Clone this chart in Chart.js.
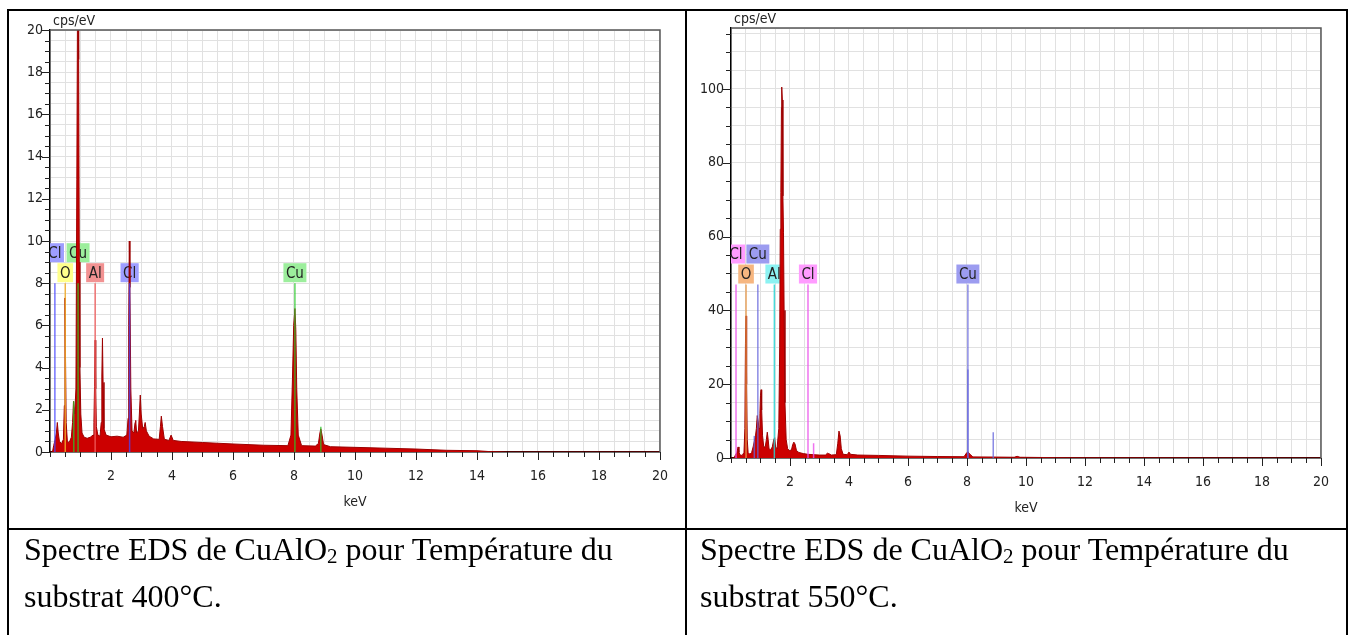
<!DOCTYPE html>
<html>
<head>
<meta charset="utf-8">
<script src="https://cdn.jsdelivr.net/npm/chart.js@4.4.1/dist/chart.umd.min.js"></script>
<style>
  body { margin: 0; background: #fff; width: 1349px; height: 635px; overflow: hidden; position: relative; }
  .cell { position: absolute; }
  .rule { position: absolute; background: #000; }
  .caption {
    position: absolute; font-family: "Liberation Serif", "Times New Roman", serif;
    font-size: 32px; line-height: 47px; color: #000; white-space: nowrap;
  }
  .caption sub { font-size: 21px; vertical-align: -3px; line-height: 0; }
</style>
</head>
<body>
<div class="cell" style="left:10px;top:11px;width:674px;height:517px"><canvas id="eds400" width="674" height="517"></canvas></div>
<div class="cell" style="left:688px;top:11px;width:657px;height:517px"><canvas id="eds550" width="657" height="517"></canvas></div>

<div class="rule" style="left:7px;top:9px;width:1341px;height:1.5px"></div>
<div class="rule" style="left:7px;top:9px;width:2px;height:626px"></div>
<div class="rule" style="left:685px;top:9px;width:2px;height:626px"></div>
<div class="rule" style="left:1346px;top:9px;width:2px;height:626px"></div>
<div class="rule" style="left:7px;top:528px;width:1341px;height:2px"></div>

<div class="caption" style="left:24px;top:526px">Spectre EDS de CuAlO<sub>2</sub> pour Température du<br>substrat 400°C.</div>
<div class="caption" style="left:700px;top:526px">Spectre EDS de CuAlO<sub>2</sub> pour Température du<br>substrat 550°C.</div>

<script>
// tick labels
const xLabels = [2, 4, 6, 8, 10, 12, 14, 16, 18, 20];
const yLabels400 = [0, 2, 4, 6, 8, 10, 12, 14, 16, 18, 20];
const yLabels550 = [0, 20, 40, 60, 80, 100];

// spectrum, substrat 400°C (keV / cps/eV)
const kev400 = [0.00, 0.08, 0.12, 0.17, 0.21, 0.24, 0.27, 0.31, 0.38, 0.44, 0.47, 0.49, 0.51, 0.53, 0.57,
  0.63, 0.70, 0.74, 0.77, 0.81, 0.85, 0.88, 0.90, 0.93, 0.94, 0.96, 0.98, 1.01, 1.05, 1.12, 1.22, 1.32,
  1.41, 1.44, 1.46, 1.48, 1.50, 1.52, 1.57, 1.64, 1.68, 1.70, 1.72, 1.74, 1.77, 1.84, 2.00, 2.20, 2.40,
  2.52, 2.56, 2.58, 2.60, 2.62, 2.65, 2.69, 2.75, 2.79, 2.81, 2.84, 2.90, 2.93, 2.96, 2.99, 3.04, 3.09,
  3.12, 3.16, 3.25, 3.40, 3.58, 3.62, 3.65, 3.69, 3.75, 3.90, 3.97, 4.04, 4.30, 5.00, 6.00, 7.00, 7.80,
  7.90, 7.95, 7.99, 8.03, 8.06, 8.09, 8.14, 8.25, 8.70, 8.80, 8.85, 8.88, 8.92, 8.97, 9.20, 10.0, 11.0,
  12.0, 13.0, 14.0, 14.4, 15.0, 20.0];
const cps400 = [0, 0, 0.3, 0.6, 0.9, 1.4, 0.9, 0.5, 0.4, 0.6, 2.2, 7.3, 4.3, 1.4, 0.5,
  0.45, 0.7, 1.4, 2.4, 1.8, 3.0, 12.9, 20.5, 20.5, 18.6, 9.0, 4.0, 1.8, 0.9, 0.7, 0.65, 0.7,
  0.8, 1.4, 3.1, 5.3, 3.0, 1.2, 0.8, 0.75, 1.4, 3.6, 5.4, 3.3, 1.1, 0.8, 0.72, 0.75, 0.7,
  0.8, 1.6, 6.0, 10.0, 7.8, 3.0, 1.0, 0.9, 1.4, 1.5, 0.9, 1.0, 1.8, 2.7, 1.8, 1.1, 1.2,
  1.4, 1.0, 0.75, 0.62, 0.6, 1.2, 1.7, 1.2, 0.6, 0.55, 0.8, 0.55, 0.5, 0.45, 0.38, 0.32, 0.3,
  0.8, 3.5, 6.0, 6.8, 5.8, 3.0, 0.8, 0.3, 0.28, 0.4, 0.9, 1.1, 0.8, 0.35, 0.25, 0.22, 0.18,
  0.14, 0.08, 0.06, 0.02, 0, 0];

// spectrum, substrat 550°C
const kev550 = [0.00, 0.10, 0.15, 0.20, 0.24, 0.27, 0.31, 0.38, 0.44, 0.47, 0.49, 0.51, 0.53, 0.55, 0.58,
  0.64, 0.70, 0.75, 0.79, 0.83, 0.86, 0.89, 0.92, 0.95, 0.98, 1.00, 1.02, 1.04, 1.07, 1.11, 1.16, 1.20,
  1.23, 1.26, 1.29, 1.34, 1.40, 1.45, 1.48, 1.51, 1.56, 1.62, 1.65, 1.67, 1.69, 1.71, 1.72, 1.74, 1.76,
  1.78, 1.80, 1.83, 1.87, 1.92, 1.98, 2.05, 2.09, 2.13, 2.17, 2.22, 2.30, 2.45, 2.60, 2.80, 3.00, 3.20,
  3.27, 3.31, 3.40, 3.57, 3.62, 3.66, 3.70, 3.74, 3.80, 3.94, 4.00, 4.05, 4.30, 5.00, 6.00, 7.00, 7.90,
  7.97, 8.03, 8.09, 8.20, 9.00, 9.60, 9.70, 9.80, 11.0, 12.0, 20.0];
const cps550 = [0, 0, 0.8, 1.5, 3.0, 1.5, 0.8, 0.7, 1.5, 8, 31, 38.5, 20, 5, 1.5,
  1.0, 1.5, 3, 4.5, 6, 8, 11.5, 10, 8, 12, 17, 18.5, 13, 6, 3, 3, 5,
  7, 5, 2.5, 2.2, 3, 5, 5.5, 3, 2.5, 8, 30, 62, 72, 95, 100.5, 97, 71,
  61, 40, 15, 5, 2.5, 2, 2.2, 3.6, 4.3, 3.8, 2, 1.5, 1.2, 1.0, 0.9, 0.8, 0.8,
  1.3, 1.2, 0.8, 0.9, 4, 7.3, 6, 2.5, 1.0, 0.9, 1.6, 1.0, 0.8, 0.7, 0.5, 0.4, 0.35,
  1.2, 1.7, 1.1, 0.3, 0.25, 0.2, 0.45, 0.2, 0.1, 0.05, 0];

// element labels (row 1 = upper row)
const labText400 = ['Cl', 'Cu', 'O', 'Al', 'Cl', 'Cu'];
const labKev400 = [0.16, 0.92, 0.50, 1.48, 2.61, 8.03];
const labRow400 = [1, 1, 0, 0, 0, 0];
const extraEl400 = ['Cu', 'Cu'];
const extraKev400 = [0.78, 8.88];
const extraTop400 = [2.4, 1.2];

const labText550 = ['Cl', 'Cu', 'O', 'Al', 'Cl', 'Cu'];
const labKev550 = [0.17, 0.91, 0.51, 1.47, 2.61, 8.03];
const labRow550 = [1, 1, 0, 0, 0, 0];
const extraEl550 = ['Cu', 'Cu', 'Cu', 'Cl'];
const extraKev550 = [0.79, 8.03, 8.89, 2.80];
const extraTop550 = [6, 24, 7, 4];

const style400 = {
  Cl: { line: 'rgba(70,70,255,0.75)', box: '#9e9eff' },
  Cu: { line: 'rgba(40,200,40,0.75)', box: '#9cee9c' },
  O: { line: 'rgba(240,170,40,0.85)', box: '#ffff8c' },
  Al: { line: 'rgba(240,90,90,0.85)', box: '#f29292' }
};
const style550 = {
  Cl: { line: 'rgba(235,80,235,0.8)', box: '#ff9cff' },
  Cu: { line: 'rgba(100,100,220,0.75)', box: '#9c9cf0' },
  O: { line: 'rgba(230,150,70,0.85)', box: '#f6b680' },
  Al: { line: 'rgba(40,210,210,0.85)', box: '#8cf2f2' }
};

const tickFont = { family: 'DejaVu Sans Condensed', size: 14 };

function stepTicks(step) {
  return scale => {
    const ticks = [];
    for (let i = 0; i * step <= scale.max + 1e-9; i++) {
      ticks.push({ value: Math.round(i * step * 100) / 100 });
    }
    if (ticks[ticks.length - 1].value < scale.max) ticks.push({ value: scale.max });
    scale.ticks = ticks;
  };
}

function markerDataset(kev, top, color) {
  return {
    data: [{ x: kev, y: 0 }, { x: kev, y: top }],
    borderColor: color, borderWidth: 1.5, pointRadius: 0, fill: false, order: 0
  };
}

// labels, frame, tick marks and axis titles
function edsDecor(c) {
  return {
    id: 'edsDecor',
    beforeDatasetsDraw(chart) {
      const { ctx, chartArea: a, scales: { x, y } } = chart;
      ctx.save();
      ctx.beginPath();
      ctx.rect(a.left, a.top, a.right - a.left, a.bottom - a.top);
      ctx.clip();
      ctx.font = '15px "DejaVu Sans Condensed"';
      ctx.textAlign = 'center';
      ctx.textBaseline = 'middle';
      const lineTop = y.getPixelForValue(c.lineTop);
      const h = 19;
      c.labText.forEach((t, i) => {
        const cx = x.getPixelForValue(c.labKev[i]);
        const w = ctx.measureText(t).width + 5;
        const bottom = lineTop - 1 - c.labRow[i] * (h + 1);
        ctx.fillStyle = c.style[t].box;
        ctx.fillRect(cx - w / 2, bottom - h, w, h);
        ctx.fillStyle = '#222';
        ctx.fillText(t, cx, bottom - h / 2 + 1);
      });
      ctx.restore();
    },
    afterDraw(chart) {
      const { ctx, chartArea: a, scales: { x, y } } = chart;
      ctx.save();
      ctx.strokeStyle = '#555';
      ctx.lineWidth = 1.5;
      ctx.beginPath();
      ctx.moveTo(a.left, a.top);
      ctx.lineTo(a.right, a.top);
      ctx.lineTo(a.right, a.bottom);
      ctx.stroke();

      ctx.strokeStyle = '#222';
      ctx.lineWidth = 1;
      ctx.beginPath();
      x.ticks.forEach(t => {
        const px = Math.round(x.getPixelForValue(t.value)) + 0.5;
        const len = xLabels.includes(t.value) ? 8 : 5;
        ctx.moveTo(px, a.bottom);
        ctx.lineTo(px, a.bottom + len);
      });
      y.ticks.forEach(t => {
        if (t.value > c.yLabels[c.yLabels.length - 1] + 3 * c.yStep) return;
        const py = Math.round(y.getPixelForValue(t.value)) + 0.5;
        const len = c.yLabels.includes(t.value) ? 8 : 5;
        ctx.moveTo(a.left - len, py);
        ctx.lineTo(a.left, py);
      });
      ctx.stroke();

      ctx.fillStyle = '#222';
      ctx.font = '14px "DejaVu Sans Condensed"';
      ctx.textBaseline = 'middle';
      ctx.textAlign = 'left';
      ctx.fillText('cps/eV', a.left + 3, a.top - 9);
      ctx.textAlign = 'center';
      ctx.fillText('keV', (a.left + a.right) / 2, a.bottom + 50);
      ctx.restore();
    }
  };
}

function buildChart(canvasId, c) {
  const spectrum = c.kev.map((k, i) => ({ x: k, y: c.cps[i] }));
  const markers = [];
  c.labKev.forEach((k, i) => markers.push(markerDataset(k, c.lineTop, c.style[c.labText[i]].line)));
  c.extraKev.forEach((k, i) => markers.push(markerDataset(k, c.extraTop[i], c.style[c.extraEl[i]].line)));

  return new Chart(document.getElementById(canvasId), {
    type: 'line',
    data: {
      datasets: [...markers, {
        data: spectrum, borderColor: '#9c0000', backgroundColor: '#cc0000',
        borderWidth: 1, fill: 'origin', pointRadius: 0, tension: 0, order: 1
      }]
    },
    options: {
      responsive: false,
      animation: false,
      events: [],
      layout: { padding: { left: 0, top: c.padTop, right: c.padRight, bottom: 0 } },
      plugins: { legend: { display: false }, tooltip: { enabled: false } },
      scales: {
        x: {
          type: 'linear', min: 0, max: 20,
          afterFit: s => { s.height = c.xHeight; },
          afterBuildTicks: stepTicks(0.5),
          grid: { color: '#e1e1e1', drawTicks: false },
          border: { color: '#000', width: 1.5 },
          ticks: {
            autoSkip: false, maxRotation: 0, padding: 16, color: '#222', font: tickFont,
            callback: v => xLabels.includes(v) ? String(v) : ''
          }
        },
        y: {
          type: 'linear', min: 0, max: c.yMax,
          afterFit: s => { s.width = c.yWidth; },
          afterBuildTicks: stepTicks(c.yStep),
          grid: { color: '#e1e1e1', drawTicks: false },
          border: { color: '#000', width: 1.5 },
          ticks: {
            autoSkip: false, padding: 7, color: '#222', font: tickFont,
            callback: v => c.yLabels.includes(v) ? String(v) : ''
          }
        }
      }
    },
    plugins: [edsDecor(c)]
  });
}

buildChart('eds400', {
  kev: kev400, cps: cps400, yMax: 20, yStep: 0.5, yLabels: yLabels400,
  labText: labText400, labKev: labKev400, labRow: labRow400, lineTop: 8.0,
  extraEl: extraEl400, extraKev: extraKev400, extraTop: extraTop400, style: style400,
  padTop: 19, padRight: 14, yWidth: 40, xHeight: 76
});

buildChart('eds550', {
  kev: kev550, cps: cps550, yMax: 116.5, yStep: 5, yLabels: yLabels550,
  labText: labText550, labKev: labKev550, labRow: labRow550, lineTop: 47,
  extraEl: extraEl550, extraKev: extraKev550, extraTop: extraTop550, style: style550,
  padTop: 17, padRight: 13, yWidth: 43, xHeight: 70
});
</script>
</body>
</html>
